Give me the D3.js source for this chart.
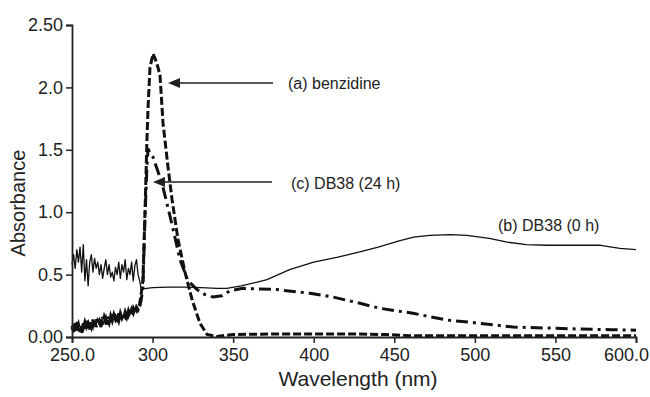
<!DOCTYPE html>
<html><head><meta charset="utf-8">
<script src="https://cdn.jsdelivr.net/npm/d3@7"></script>
<style>
html,body{margin:0;padding:0;background:#fff;}
svg{display:block;font-family:"Liberation Sans",Arial,sans-serif;}
</style></head><body>
<svg id="c" width="650" height="397"></svg>
<script>
// ---- data ----
const xTicks = [250, 300, 350, 400, 450, 500, 550, 600];
const xTickLabels = ["250.0", "300", "350", "400", "450", "500", "550", "600.0"];
const yTicks = [0, 0.5, 1.0, 1.5, 2.0, 2.5];
const yTickLabels = ["0.00", "0.5", "1.0", "1.5", "2.0", "2.50"];

// (b) DB38 (0 h) - solid
const bWave = [250,251,252,253,254,255,256,257,258,259,260,261,262,263,264,265,266,267,268,269,270,271,272,273,274,275,276,277,278,279,280,281,282,283,284,285,286,287,288,289,290,291,292,293,
  294,300,310,320,330,340,346,355,365,371,385,400,415,428,440,453,462,472,485,495,509,520,532,545,560,578,590,600];
const bAbs = [0.58,0.66,0.55,0.70,0.60,0.72,0.52,0.74,0.45,0.62,0.41,0.60,0.66,0.52,0.63,0.55,0.60,0.50,0.58,0.47,0.55,0.62,0.50,0.58,0.48,0.52,0.45,0.56,0.50,0.60,0.47,0.58,0.52,0.62,0.46,0.55,0.50,0.60,0.45,0.57,0.62,0.50,0.45,0.38,
  0.385,0.395,0.40,0.40,0.395,0.39,0.39,0.41,0.44,0.46,0.54,0.60,0.64,0.68,0.72,0.77,0.80,0.815,0.82,0.815,0.79,0.76,0.74,0.735,0.735,0.735,0.71,0.70];

// (a) benzidine - dashed
const aWave = [250,251,252,253,254,255,256,257,258,259,260,261,262,263,264,265,266,267,268,269,270,271,272,273,274,275,276,277,278,279,280,281,282,283,284,285,286,287,288,289,290,291,292,
  293,294,295.3,296.5,297.2,298.4,300.3,302.5,304.6,306.5,309.6,312.1,315.8,320.1,324.5,329.4,333.8,340,350,380,420,445,460,500,550,600];
const aAbs = [0.09,0.04,0.11,0.06,0.10,0.04,0.09,0.07,0.12,0.08,0.11,0.06,0.13,0.09,0.14,0.08,0.13,0.11,0.15,0.10,0.16,0.12,0.14,0.11,0.17,0.13,0.18,0.14,0.17,0.13,0.19,0.15,0.18,0.16,0.21,0.17,0.20,0.18,0.23,0.20,0.24,0.22,0.27,
  0.35,0.45,1.0,1.58,1.84,2.16,2.27,2.2,2.1,1.71,1.36,1.10,0.78,0.52,0.30,0.11,0.02,0.005,0.02,0.025,0.025,0.02,0.01,0.01,0.01,0.01];

// (c) DB38 (24 h) - dash-dot
const cWave = [250,251,252,253,254,255,256,257,258,259,260,261,262,263,264,265,266,267,268,269,270,271,272,273,274,275,276,277,278,279,280,281,282,283,284,285,286,287,288,289,290,291,292,
  293,294,295.3,296.5,297.2,298.4,300.3,305.9,312.1,317,322,327.6,332.5,337.5,343,348,356,377,397.7,412,428.7,441,461.6,482.7,503,523.7,544.8,565.3,585,600];
const cAbs = [0.06,0.10,0.03,0.12,0.05,0.09,0.02,0.11,0.06,0.13,0.07,0.12,0.08,0.14,0.09,0.15,0.10,0.13,0.08,0.16,0.11,0.15,0.10,0.17,0.12,0.18,0.13,0.16,0.12,0.19,0.14,0.18,0.15,0.20,0.16,0.21,0.17,0.22,0.19,0.23,0.21,0.25,0.24,
  0.30,0.40,0.96,1.36,1.51,1.47,1.44,1.23,0.90,0.62,0.45,0.38,0.34,0.32,0.33,0.37,0.39,0.38,0.35,0.32,0.27,0.23,0.19,0.136,0.11,0.08,0.072,0.064,0.058,0.055];

const labels = ["(a) benzidine", "(b) DB38 (0 h)", "(c) DB38 (24 h)"];

// ---- drawing ----
const svg = d3.select("#c");
const x = d3.scaleLinear().domain([250, 600]).range([72, 636]);
const y = d3.scaleLinear().domain([0, 2.5]).range([337, 25]);

const line = d3.line().x(d => x(d[0])).y(d => y(d[1]));
const zip = (w, v) => w.map((d, i) => [d, v[i]]);

svg.append("path").datum(zip(bWave, bAbs)).attr("d", line)
  .attr("fill", "none").attr("stroke", "#111").attr("stroke-width", 1.3).attr("stroke-linejoin", "round");
svg.append("path").datum(zip(cWave, cAbs)).attr("d", line)
  .attr("fill", "none").attr("stroke", "#111").attr("stroke-width", 3).attr("stroke-dasharray", "12,5,3,5");
svg.append("path").datum(zip(aWave, aAbs)).attr("d", line)
  .attr("fill", "none").attr("stroke", "#111").attr("stroke-width", 3).attr("stroke-dasharray", "8,3");

// axes
const xAxis = d3.axisBottom(x).tickValues(xTicks).tickFormat((d, i) => xTickLabels[i]).tickSizeOuter(0).tickSize(6).tickPadding(5);
const yAxis = d3.axisLeft(y).tickValues(yTicks).tickFormat((d, i) => yTickLabels[i]).tickSizeOuter(0).tickSize(6).tickPadding(3);
const gx = svg.append("g").attr("transform", "translate(0,337)").call(xAxis);
const gy = svg.append("g").attr("transform", "translate(72,0)").call(yAxis);
[gx, gy].forEach(g => {
  g.select(".domain").attr("stroke", "#222").attr("stroke-width", 1.8);
  g.selectAll(".tick line").attr("stroke", "#222").attr("stroke-width", 1.5);
  g.selectAll(".tick text").attr("fill", "#222").style("font-size", "18px").style("font-family", "Liberation Sans, Arial, sans-serif");
});
// keep the last x label inside the picture
gx.selectAll(".tick text").filter((d, i) => i === xTicks.length - 1).attr("dx", -10);

// axis titles
svg.append("text").attr("x", 358).attr("y", 386).attr("text-anchor", "middle")
  .attr("fill", "#222").style("font-size", "21px").text("Wavelength (nm)");
svg.append("text").attr("transform", "translate(25,203) rotate(-90)").attr("text-anchor", "middle")
  .attr("fill", "#222").style("font-size", "20px").text("Absorbance");

// annotations with arrows
function arrow(x1, yy, x2) {
  svg.append("line").attr("x1", x1).attr("y1", yy).attr("x2", x2 + 9).attr("y2", yy)
    .attr("stroke", "#222").attr("stroke-width", 1.6);
  svg.append("path").attr("d", `M${x2},${yy} L${x2 + 12},${yy - 5} L${x2 + 12},${yy + 5} Z`).attr("fill", "#222");
}
arrow(273, 83, 168);
arrow(272, 182, 153);
svg.append("text").attr("x", 288).attr("y", 89).attr("fill", "#222").style("font-size", "16px").text(labels[0]);
svg.append("text").attr("x", 291).attr("y", 189).attr("fill", "#222").style("font-size", "16px").text(labels[2]);
svg.append("text").attr("x", 498).attr("y", 231).attr("fill", "#222").style("font-size", "16px").text(labels[1]);
</script>
</body></html>
